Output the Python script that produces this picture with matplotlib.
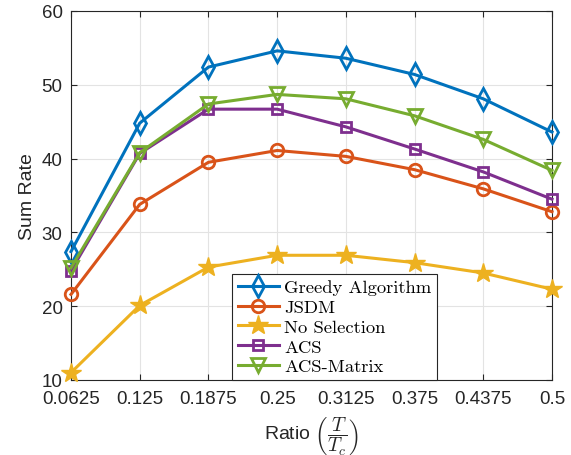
import matplotlib
matplotlib.use("Agg")
import matplotlib.pyplot as plt

ratios = [0.0625, 0.125, 0.1875, 0.25, 0.3125, 0.375, 0.4375, 0.5]
tick_labels = ["0.0625", "0.125", "0.1875", "0.25", "0.3125", "0.375", "0.4375", "0.5"]

greedy = [27.4, 44.8, 52.4, 54.6, 53.6, 51.4, 48.1, 43.6]
jsdm = [21.6, 33.8, 39.5, 41.1, 40.3, 38.5, 35.9, 32.8]
no_selection = [11.0, 20.1, 25.3, 26.9, 26.9, 25.9, 24.5, 22.3]
acs = [24.8, 40.7, 46.7, 46.7, 44.3, 41.3, 38.2, 34.5]
acs_matrix = [25.2, 40.8, 47.4, 48.7, 48.1, 45.8, 42.6, 38.4]

series = [
    ("Greedy Algorithm", greedy, "#0072BD", "d", 11),
    ("JSDM", jsdm, "#D95319", "o", 9),
    ("No Selection", no_selection, "#EDB120", "*", 15),
    ("ACS", acs, "#7E2F8E", "s", 7),
    ("ACS-Matrix", acs_matrix, "#77AC30", "v", 10),
]

plt.rcParams["font.family"] = ["Liberation Sans", "DejaVu Sans"]
plt.rcParams["mathtext.fontset"] = "cm"

fig = plt.figure(figsize=(5.71, 4.56), dpi=100)
ax = fig.add_axes([71 / 571, 1 - 381 / 456, 481 / 571, 369 / 456])

for name, vals, color, marker, ms in series:
    if marker == "*":
        ax.plot(ratios, vals, color=color, lw=2.2, marker=marker, ms=ms,
                mfc=color, mec=color, label=name, clip_on=False, zorder=3)
    else:
        ax.plot(ratios, vals, color=color, lw=2.2, marker=marker, ms=ms,
                mfc="none", mec=color, mew=2.0, label=name, clip_on=False, zorder=3)

ax.set_xlim(0.0625, 0.5)
ax.set_ylim(10, 60)
ax.set_xticks(ratios)
ax.set_xticklabels(tick_labels)
ax.set_yticks([10, 20, 30, 40, 50, 60])
ax.tick_params(direction="in", top=True, right=True, labelsize=13.5,
               colors="#262626", length=4, width=0.8)
ax.tick_params(axis="x", pad=7)
ax.tick_params(axis="y", pad=6)
ax.grid(True, color="#e3e3e3", lw=0.8)
ax.set_axisbelow(True)
for sp in ax.spines.values():
    sp.set_color("#262626")
    sp.set_linewidth(0.8)

ax.set_ylabel("Sum Rate", fontsize=14, color="#262626", labelpad=4)
ax.set_xlabel(r"Ratio $\left(\dfrac{T}{T_c}\right)$", fontsize=14, color="#262626", labelpad=5)

leg = ax.legend(loc="lower left", bbox_to_anchor=(0.335, 0.0), borderaxespad=0,
                fancybox=False, edgecolor="#262626", framealpha=1, handlelength=2.2,
                borderpad=0.3, labelspacing=0.2, handletextpad=0.3,
                prop={"family": "cmr10", "size": 13.4})
leg.get_frame().set_linewidth(0.8)

fig.savefig("out.png", dpi=100)
